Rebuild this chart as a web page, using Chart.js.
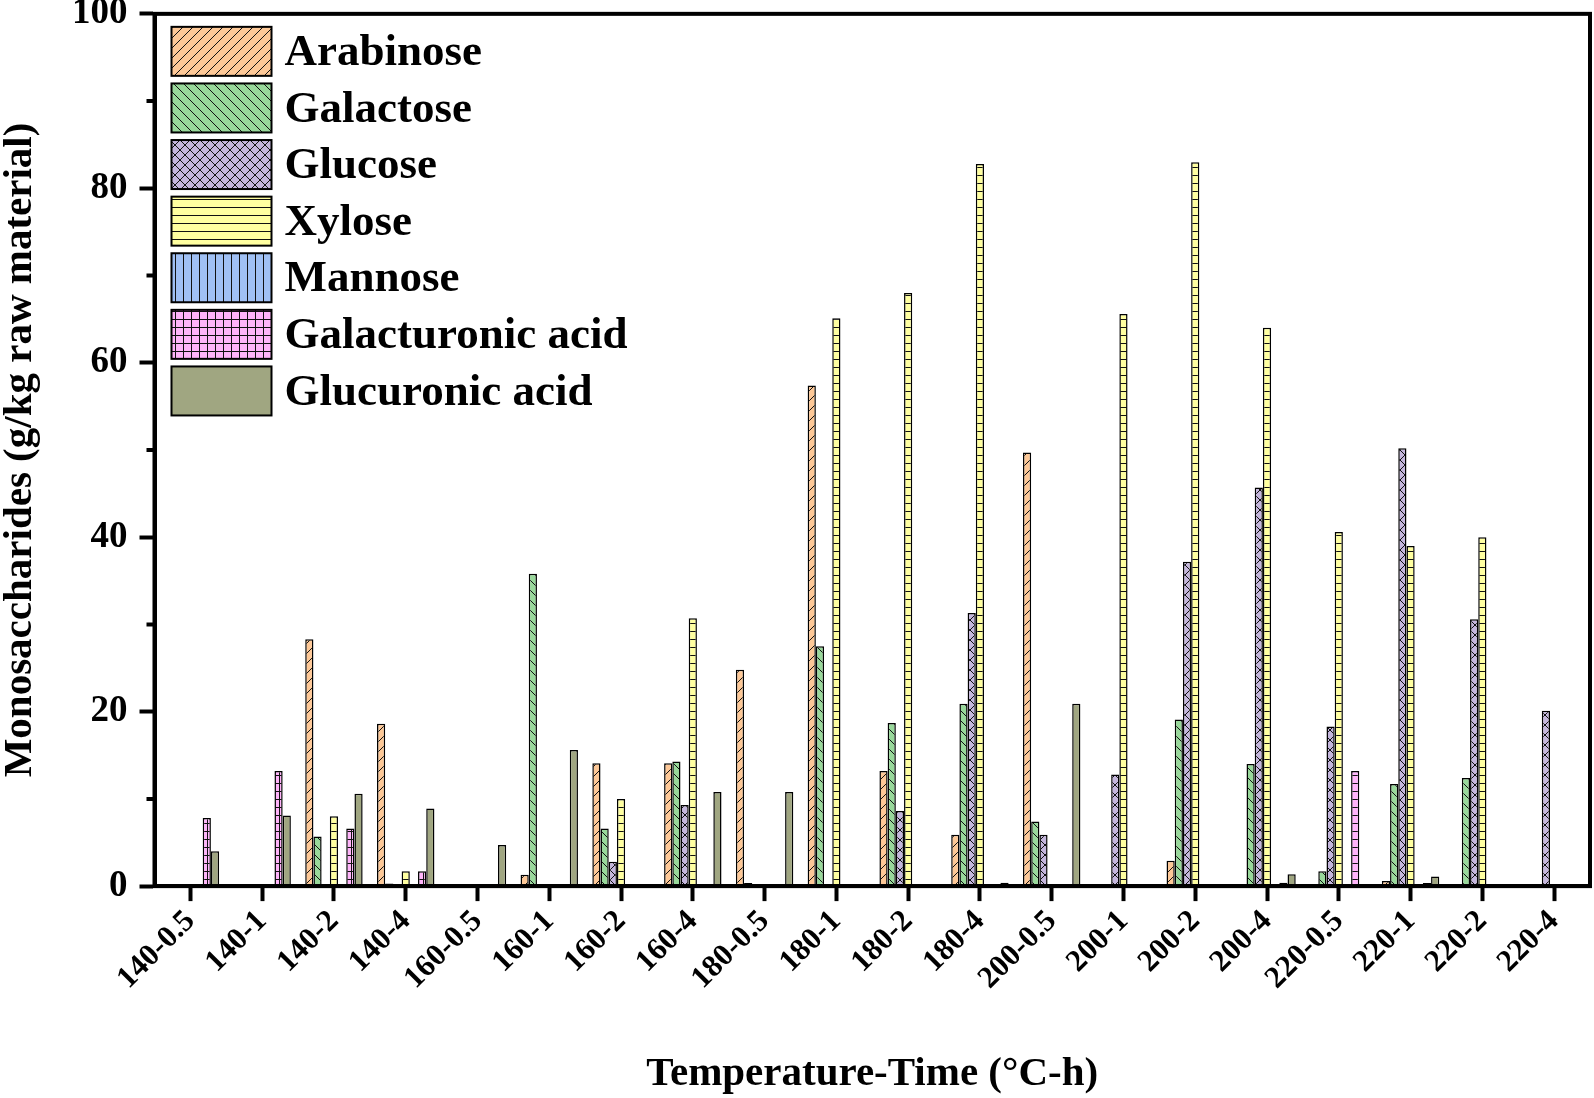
<!DOCTYPE html>
<html>
<head>
<meta charset="utf-8">
<script src="https://cdn.jsdelivr.net/npm/chart.js@4.4.0/dist/chart.umd.min.js"></script>
<style>
  html, body { margin: 0; padding: 0; background: #fff; }
</style>
</head>
<body>
<canvas id="chart" width="1594" height="1098"></canvas>
<script>
// ===== data (g/kg raw material) =====
const categories = ['140-0.5', '140-1', '140-2', '140-4', '160-0.5', '160-1', '160-2', '160-4',
    '180-0.5', '180-1', '180-2', '180-4', '200-0.5', '200-1', '200-2', '200-4',
    '220-0.5', '220-1', '220-2', '220-4'];
const arabinose    = [0, 0, 28.3, 18.6, 0.1, 1.3, 14.1, 14.1, 24.8, 57.4, 13.2, 5.9, 49.7, 0, 2.9, 0.1, 0.1, 0.6, 0, 0];
const galactose    = [0, 0, 5.7, 0.3, 0, 35.8, 6.6, 14.3, 0.35, 27.5, 18.7, 20.9, 7.4, 0, 19.1, 14.0, 1.7, 11.7, 12.4, 0];
const glucose      = [0, 0, 0, 0, 0, 0, 2.8, 9.3, 0, 0, 8.6, 31.3, 5.9, 12.8, 37.2, 45.7, 18.3, 50.2, 30.6, 20.1];
const xylose       = [0, 0, 8.0, 1.7, 0, 0, 10.0, 30.7, 0, 65.1, 68.0, 82.8, 0, 65.6, 83.0, 64.0, 40.6, 39.0, 40.0, 0];
const mannose      = [0, 0, 0, 0, 0, 0, 0, 0, 0, 0, 0, 0, 0, 0, 0, 0, 0, 0, 0, 0];
const galacturonic = [7.8, 13.2, 6.6, 1.7, 0, 0, 0, 0, 0, 0, 0, 0, 0, 0, 0, 0.4, 13.2, 0.35, 0, 0];
const glucuronic   = [4.0, 8.1, 10.6, 8.9, 4.7, 15.6, 0, 10.8, 10.8, 0, 0, 0.4, 20.9, 0, 0, 1.35, 0, 1.1, 0, 0];
const yTicks = [0, 20, 40, 60, 80, 100];
const yMinorTicks = [10, 30, 50, 70, 90];

const FONT = '"Liberation Serif", "Times New Roman", serif';
const canvas = document.getElementById('chart');
const mainCtx = canvas.getContext('2d');

// hatch fills, like the Origin patterns
function makePattern(fill, kind) {
    if (kind === 'solid') return fill;
    const s = (kind === 'fwd' || kind === 'back' || kind === 'cross') ? 10 : 8;
    const c = document.createElement('canvas');
    c.width = s; c.height = s;
    const g = c.getContext('2d');
    g.fillStyle = fill;
    g.fillRect(0, 0, s, s);
    g.strokeStyle = '#111';
    g.lineWidth = 1;
    g.beginPath();
    if (kind === 'fwd' || kind === 'cross') {
        g.moveTo(0, s); g.lineTo(s, 0);
        g.moveTo(-2, 2); g.lineTo(2, -2);
        g.moveTo(s - 2, s + 2); g.lineTo(s + 2, s - 2);
    }
    if (kind === 'back' || kind === 'cross') {
        g.moveTo(0, 0); g.lineTo(s, s);
        g.moveTo(s - 2, -2); g.lineTo(s + 2, 2);
        g.moveTo(-2, s - 2); g.lineTo(2, s + 2);
    }
    if (kind === 'h' || kind === 'grid') {
        g.moveTo(0, s - 0.5); g.lineTo(s, s - 0.5);
    }
    if (kind === 'v' || kind === 'grid') {
        g.moveTo(s - 0.5, 0); g.lineTo(s - 0.5, s);
    }
    g.stroke();
    return mainCtx.createPattern(c, 'repeat');
}

const series = [
    { label: 'Arabinose', data: arabinose, fill: '#FDC897', kind: 'fwd' },
    { label: 'Galactose', data: galactose, fill: '#98D89A', kind: 'back' },
    { label: 'Glucose', data: glucose, fill: '#C4B6DC', kind: 'cross' },
    { label: 'Xylose', data: xylose, fill: '#FFFFA0', kind: 'h' },
    { label: 'Mannose', data: mannose, fill: '#A0C0F4', kind: 'v' },
    { label: 'Galacturonic acid', data: galacturonic, fill: '#FFB4FA', kind: 'grid' },
    { label: 'Glucuronic acid', data: glucuronic, fill: '#A0A681', kind: 'solid' }
];

// legend drawn inside the plot, top-left
const legendBoxes = {
    id: 'legendBoxes',
    afterDraw(chart) {
        const { ctx, chartArea } = chart;
        const x = chartArea.left + 17, w = 100, h = 49;
        ctx.save();
        chart.data.datasets.forEach((ds, i) => {
            const y = chartArea.top + 13 + i * 56.6;
            ctx.fillStyle = ds.backgroundColor;
            ctx.fillRect(x, y, w, h);
            ctx.lineWidth = 2;
            ctx.strokeStyle = '#000';
            ctx.strokeRect(x, y, w, h);
            ctx.fillStyle = '#000';
            ctx.font = 'bold 45px ' + FONT;
            ctx.textBaseline = 'middle';
            ctx.fillText(ds.label, x + w + 13, y + h / 2 + 2);
        });
        ctx.restore();
    }
};

// closed frame + short minor ticks on the y axis
const frame = {
    id: 'frame',
    afterDatasetsDraw(chart) {
        const { ctx, chartArea: a, scales: { y } } = chart;
        ctx.save();
        ctx.strokeStyle = '#000';
        ctx.lineWidth = 4;
        ctx.strokeRect(a.left, a.top, a.right - a.left, a.bottom - a.top);
        ctx.beginPath();
        yMinorTicks.forEach(v => {
            const py = y.getPixelForValue(v);
            ctx.moveTo(a.left, py);
            ctx.lineTo(a.left - 8, py);
        });
        ctx.stroke();
        ctx.restore();
    }
};

new Chart(canvas, {
    type: 'bar',
    data: {
        labels: categories,
        datasets: series.map(s => ({
            label: s.label,
            data: s.data.map(v => v || null),
            backgroundColor: makePattern(s.fill, s.kind),
            borderColor: '#000',
            borderWidth: 1.5,
            borderSkipped: false,
            categoryPercentage: 0.8,
            barPercentage: 1.0
        }))
    },
    options: {
        responsive: false,
        animation: false,
        events: [],
        layout: { padding: { left: 0, right: 4, top: 0, bottom: 0 } },
        plugins: {
            legend: { display: false },
            tooltip: { enabled: false }
        },
        scales: {
            x: {
                grid: { drawOnChartArea: false, drawTicks: true, tickLength: 15, tickWidth: 4, tickColor: '#000', offset: false },
                border: { display: true, width: 4, color: '#000' },
                ticks: {
                    autoSkip: false, maxRotation: 45, minRotation: 45, padding: 2,
                    color: '#000', font: { family: FONT, size: 31, weight: 'bold' }
                },
                title: {
                    display: true, text: 'Temperature-Time (\u00B0C-h)', color: '#000',
                    font: { family: FONT, size: 41, weight: 'bold', lineHeight: 1 },
                    padding: { top: 55, bottom: 3 }
                }
            },
            y: {
                min: 0, max: 100,
                afterBuildTicks: axis => { axis.ticks = yTicks.map(v => ({ value: v })); },
                grid: { drawOnChartArea: false, drawTicks: true, tickLength: 15, tickWidth: 4, tickColor: '#000' },
                border: { display: true, width: 4, color: '#000' },
                ticks: { padding: 12, color: '#000', font: { family: FONT, size: 37, weight: 'bold', lineHeight: 0.1 } },
                title: {
                    display: true, text: 'Monosaccharides (g/kg raw material)', color: '#000',
                    font: { family: FONT, size: 41, weight: 'bold', lineHeight: 1 },
                    padding: { top: 0, bottom: 19 }
                }
            }
        }
    },
    plugins: [frame, legendBoxes]
});
</script>
</body>
</html>
